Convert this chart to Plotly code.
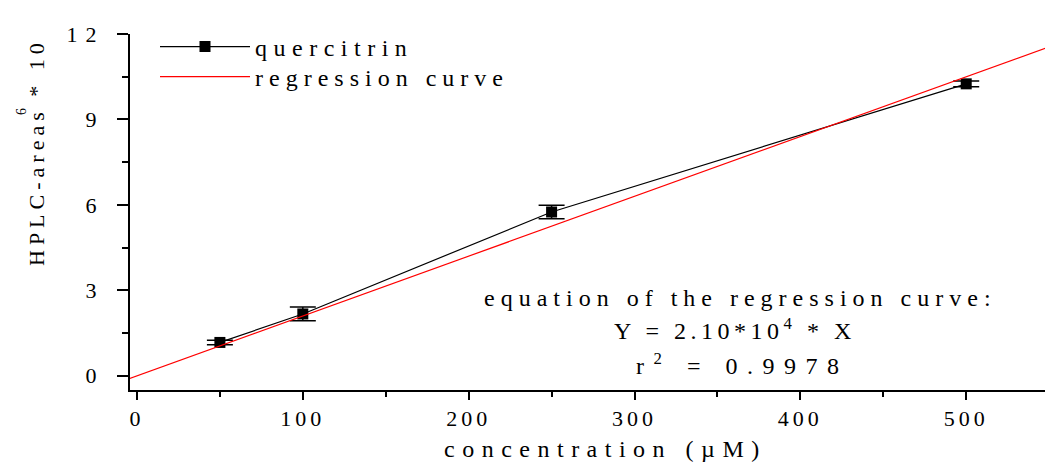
import plotly.graph_objects as go

# data
conc = [50, 100, 250, 500]
areas = [1.17, 2.17, 5.75, 10.25]
errs = [0.08, 0.24, 0.24, 0.1]
slope = 0.021  # 2.10*10^4 per uM, in units of 10^6
reg_x = [-5, 560]
reg_y = [slope * v for v in reg_x]

x_ticks = [0, 100, 200, 300, 400, 500]
y_ticks = [0, 3, 6, 9, 12]

FONT = "Liberation Serif, Times New Roman, serif"
FS = 24


def sp(t, px_=6):
    return f'<span style="letter-spacing:{px_}px">{t}</span>'


fig = go.Figure()
fig.add_trace(go.Scatter(
    x=conc, y=areas, mode="lines+markers", name=sp("quercitrin", 6.5),
    line=dict(color="black", width=1.2),
    marker=dict(symbol="square", size=11, color="black"),
    error_y=dict(type="data", array=errs, color="black", thickness=1.5, width=13),
    legend="legend",
))
fig.add_trace(go.Scatter(
    x=reg_x, y=reg_y, mode="lines", name=sp("regression curve", 6),
    line=dict(color="red", width=1.2),
    legend="legend2",
))

W, H, L, T = 915, 356, 130, 34


def px(xp):
    return (xp - L) / W


def py(yp):
    return 1 - (yp - T) / H


leg_common = dict(xanchor="left", yanchor="middle", bgcolor="rgba(0,0,0,0)", itemwidth=90,
                  font=dict(family=FONT, size=FS))

fig.update_layout(
    width=1045, height=464,
    margin=dict(l=130, r=0, t=34, b=74),
    paper_bgcolor="white", plot_bgcolor="white",
    font=dict(family=FONT, size=FS, color="black"),
    showlegend=True,
    legend=dict(x=px(155), y=py(47), **leg_common),
    legend2=dict(x=px(155), y=py(77), **leg_common),
    xaxis=dict(range=[-4.2, 547.5], showgrid=False, zeroline=False,
               showline=True, linecolor="black", linewidth=2,
               ticks="outside", ticklen=8, tickwidth=2, tickcolor="black",
               tickfont=dict(family=FONT, size=22),
               tickvals=x_ticks, ticktext=[sp(str(v), 4) for v in x_ticks],
               minor=dict(dtick=50, tick0=0, ticks="outside", ticklen=5, tickwidth=2, tickcolor="black")),
    yaxis=dict(range=[-0.5, 12], showgrid=False, zeroline=False,
               showline=True, linecolor="black", linewidth=2,
               ticks="outside", ticklen=11, tickwidth=2, tickcolor="black",
               ticklabelstandoff=8,
               tickfont=dict(family=FONT, size=22),
               tickvals=y_ticks, ticktext=[sp(str(v), 8) for v in y_ticks],
               minor=dict(dtick=1.5, tick0=0, ticks="outside", ticklen=6, tickwidth=2, tickcolor="black")),
)

ann = dict(xref="paper", yref="paper", showarrow=False, font=dict(family=FONT, size=FS, color="black"))

fig.add_annotation(x=px(740), y=py(298), text=sp("equation of the regression curve:", 6), xanchor="center", yanchor="middle", **ann)
fig.add_annotation(x=px(735), y=py(329), text=sp("Y = 2.10*10<sup>4</sup> * X", 4.5), xanchor="center", yanchor="middle", **ann)
fig.add_annotation(x=px(742), y=py(364), text=sp("r<sup>2</sup> = 0.9978", 9.5), xanchor="center", yanchor="middle", **ann)
fig.add_annotation(x=px(605), y=py(449), text=sp("concentration (µM)", 7.5), xanchor="center", yanchor="middle", **ann)
fig.add_annotation(x=px(36), y=py(152), text=sp("HPLC-areas * 10", 5), textangle=-90, xanchor="center", yanchor="middle",
                   xref="paper", yref="paper", showarrow=False, font=dict(family=FONT, size=22, color="black"))
fig.add_annotation(x=px(21), y=py(112), text="6", textangle=-90, xanchor="center", yanchor="middle",
                   xref="paper", yref="paper", showarrow=False, font=dict(family=FONT, size=14, color="black"))

fig.write_html("out.html")
